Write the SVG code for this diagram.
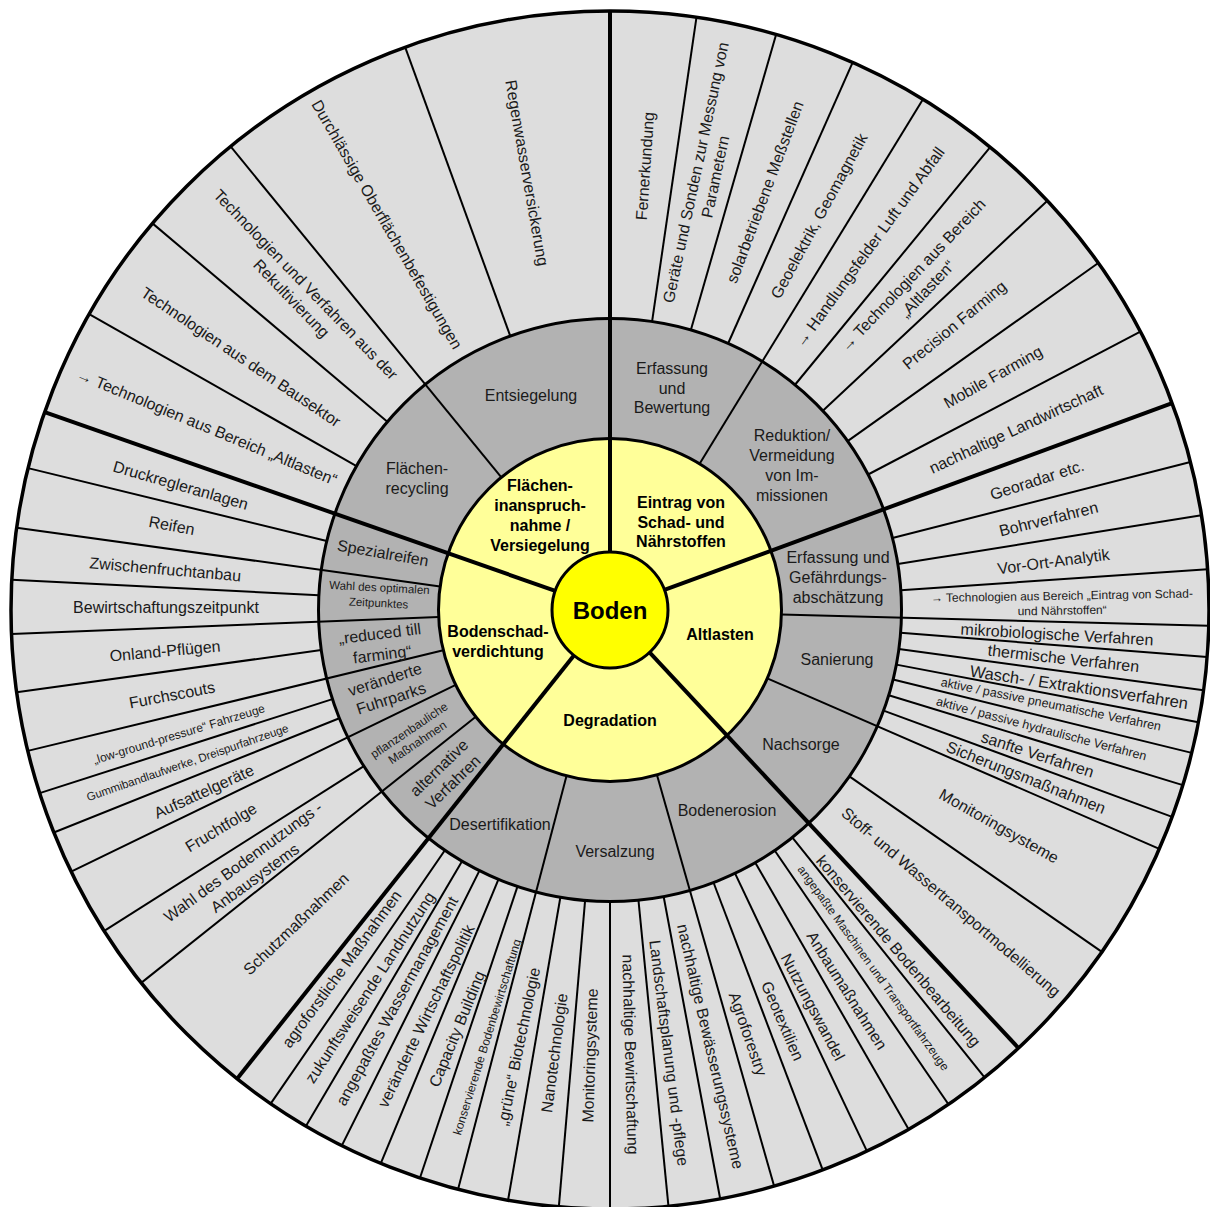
<svg xmlns="http://www.w3.org/2000/svg" width="1210" height="1207" viewBox="0 0 1210 1207">
<style>
.t{font-family:"Liberation Sans",Arial,Helvetica,sans-serif;font-size:16px;fill:#1a1a1a;text-anchor:middle}
.s{font-size:12px}
.xs{font-size:11.5px}
.m{font-size:12.5px}
.l{font-size:16.5px}
.y{font-weight:bold;fill:#000}
.bd{font-size:24px;font-weight:bold;fill:#000}
</style>
<defs>
<line id="li" x1="0" y1="-291.5" x2="0" y2="-599" stroke="#000" stroke-width="2"/>
<line id="lg" x1="0" y1="-171.5" x2="0" y2="-599" stroke="#000" stroke-width="2"/>
<line id="lm" x1="0" y1="-58" x2="0" y2="-599" stroke="#000" stroke-width="4"/>
</defs>
<rect width="1210" height="1207" fill="#fff"/>
<g id="rings">
<circle cx="610" cy="610" r="599" fill="#dddddd"/>
<circle cx="610" cy="610" r="291.5" fill="#b2b2b2"/>
<circle cx="610" cy="610" r="171.5" fill="#ffff99"/>
</g>
<g id="connectors" transform="translate(610,610)">
<use href="#li" transform="rotate(299.6)"/><use href="#li" transform="rotate(310.2)"/><use href="#li" transform="rotate(340)"/>
<use href="#li" transform="rotate(8.3)"/><use href="#li" transform="rotate(16.1)"/><use href="#li" transform="rotate(23.9)"/><use href="#li" transform="rotate(39.4)"/><use href="#li" transform="rotate(46.9)"/><use href="#li" transform="rotate(54.6)"/><use href="#li" transform="rotate(62.3)"/>
<use href="#li" transform="rotate(75.7)"/><use href="#li" transform="rotate(80.9)"/><use href="#li" transform="rotate(86.1)"/><use href="#li" transform="rotate(94.5)"/><use href="#li" transform="rotate(97.7)"/><use href="#li" transform="rotate(100.8)"/><use href="#li" transform="rotate(103.8)"/><use href="#li" transform="rotate(107)"/><use href="#li" transform="rotate(110.2)"/><use href="#li" transform="rotate(124.8)"/>
<use href="#li" transform="rotate(141.3)"/><use href="#li" transform="rotate(145.6)"/><use href="#li" transform="rotate(150.1)"/><use href="#li" transform="rotate(154.6)"/><use href="#li" transform="rotate(159.2)"/><use href="#li" transform="rotate(169.4)"/><use href="#li" transform="rotate(174.4)"/><use href="#li" transform="rotate(180)"/><use href="#li" transform="rotate(184.9)"/><use href="#li" transform="rotate(189.8)"/><use href="#li" transform="rotate(198.5)"/><use href="#li" transform="rotate(202.5)"/><use href="#li" transform="rotate(206.6)"/><use href="#li" transform="rotate(210.5)"/><use href="#li" transform="rotate(214.5)"/>
<use href="#li" transform="rotate(237.6)"/><use href="#li" transform="rotate(248.2)"/><use href="#li" transform="rotate(252.2)"/><use href="#li" transform="rotate(262.1)"/><use href="#li" transform="rotate(272.9)"/><use href="#li" transform="rotate(283.7)"/>
<use href="#lg" transform="rotate(31.5)"/><use href="#lg" transform="rotate(91.5)"/><use href="#lg" transform="rotate(113.5)"/><use href="#lg" transform="rotate(164.1)"/><use href="#lg" transform="rotate(194.7)"/><use href="#lg" transform="rotate(231.5)"/><use href="#lg" transform="rotate(244.1)"/><use href="#lg" transform="rotate(256.4)"/><use href="#lg" transform="rotate(267.7)"/><use href="#lg" transform="rotate(277.9)"/><use href="#lg" transform="rotate(320.7)"/>
<use href="#lm" transform="rotate(0)"/><use href="#lm" transform="rotate(69.8)"/><use href="#lm" transform="rotate(137)"/><use href="#lm" transform="rotate(218.5)"/><use href="#lm" transform="rotate(289.3)"/>
</g>
<g id="outlines" fill="none" stroke="#000">
<circle cx="610" cy="610" r="599" stroke-width="3.5"/>
<circle cx="610" cy="610" r="291.5" stroke-width="3"/>
<circle cx="610" cy="610" r="171.5" stroke-width="3"/>
</g>
<g id="boden"><circle cx="610" cy="610" r="58" fill="#ffff00" stroke="#000" stroke-width="3"/><text class="t bd" x="610" y="618.5">Boden</text></g>

<g id="y-flaechen"><text class="t y"><tspan x="540" y="490.5">Flächen-</tspan><tspan x="540" y="510.5">inanspruch-</tspan><tspan x="540" y="530.5">nahme /</tspan><tspan x="540" y="550.5">Versiegelung</tspan></text></g>
<g id="y-eintrag"><text class="t y"><tspan x="681" y="508">Eintrag von</tspan><tspan x="681" y="527.5">Schad- und</tspan><tspan x="681" y="547">Nährstoffen</tspan></text></g>
<g id="y-altlasten"><text class="t y" x="720" y="639.5">Altlasten</text></g>
<g id="y-degradation"><text class="t y" x="610" y="726">Degradation</text></g>
<g id="y-bodenschad"><text class="t y"><tspan x="498" y="637">Bodenschad-</tspan><tspan x="498" y="656.5">verdichtung</tspan></text></g>

<g id="g-entsiegelung"><text class="t" x="531" y="400.5">Entsiegelung</text></g>
<g id="g-flaechenrecycling"><text class="t"><tspan x="417" y="474">Flächen-</tspan><tspan x="417" y="494">recycling</tspan></text></g>
<g id="g-erfassung"><text class="t"><tspan x="672" y="374">Erfassung</tspan><tspan x="672" y="393.5">und</tspan><tspan x="672" y="413">Bewertung</tspan></text></g>
<g id="g-reduktion"><text class="t"><tspan x="792" y="441">Reduktion/</tspan><tspan x="792" y="460.5">Vermeidung</tspan><tspan x="792" y="480.5">von Im-</tspan><tspan x="792" y="500.5">missionen</tspan></text></g>
<g id="g-gefaehrdung"><text class="t"><tspan x="838" y="563">Erfassung und</tspan><tspan x="838" y="583">Gefährdungs-</tspan><tspan x="838" y="603">abschätzung</tspan></text></g>
<g id="g-sanierung"><text class="t" x="837" y="664.5">Sanierung</text></g>
<g id="g-nachsorge"><text class="t" x="801" y="750">Nachsorge</text></g>
<g id="g-bodenerosion"><text class="t" x="727" y="816">Bodenerosion</text></g>
<g id="g-versalzung"><text class="t" x="615" y="856.5">Versalzung</text></g>
<g id="g-desertifikation"><text class="t" x="500" y="829.5">Desertifikation</text></g>
<g id="g-spezialreifen"><text class="t" transform="translate(383,553) rotate(10)" y="5.5">Spezialreifen</text></g>
<g id="g-wahl"><text class="t xs" transform="translate(379,595) rotate(3)"><tspan x="0" y="-3.5">Wahl des optimalen</tspan><tspan x="0" y="12">Zeitpunktes</tspan></text></g>
<g id="g-reduced"><text class="t" transform="translate(381,644) rotate(-7)"><tspan x="0" y="-5">„reduced till</tspan><tspan x="0" y="16">farming“</tspan></text></g>
<g id="g-fuhrparks"><text class="t" transform="translate(388,689) rotate(-18)"><tspan x="0" y="-4.5">veränderte</tspan><tspan x="0" y="15.5">Fuhrparks</tspan></text></g>
<g id="g-pflanzenbau"><text class="t s" transform="translate(413,736) rotate(-34)"><tspan x="0" y="-2.8">pflanzenbauliche</tspan><tspan x="0" y="11.8">Maßnahmen</tspan></text></g>
<g id="g-alternative"><text class="t" transform="translate(446,775) rotate(-44)"><tspan x="0" y="-4.5">alternative</tspan><tspan x="0" y="15.5">Verfahren</tspan></text></g>

<g id="o-f1"><text class="t" transform="translate(207,427) rotate(22.5)" y="5.5">→ Technologien aus Bereich „Altlasten“</text></g>
<g id="o-f2"><text class="t" transform="translate(241,357) rotate(34)" y="5.5">Technologien aus dem Bausektor</text></g>
<g id="o-f3"><text class="t" transform="translate(298.5,291.5) rotate(46)"><tspan x="0" y="-4.5">Technologien und Verfahren aus der</tspan><tspan x="0" y="15.5">Rekultivierung</tspan></text></g>
<g id="o-f4"><text class="t" transform="translate(387,224.5) rotate(60)" y="5.5">Durchlässige Oberflächenbefestigungen</text></g>
<g id="o-f5"><text class="t" transform="translate(527,173) rotate(80)" y="5.5">Regenwasserversickerung</text></g>

<g id="o-e1"><text class="t" transform="translate(645,166) rotate(-86)" y="5.5">Fernerkundung</text></g>
<g id="o-e2"><text class="t" transform="translate(705.5,174.6) rotate(-78)"><tspan x="0" y="-4.5">Geräte und Sonden zur Messung von</tspan><tspan x="0" y="15.5">Parametern</tspan></text></g>
<g id="o-e3"><text class="t" transform="translate(765,192) rotate(-69.5)" y="5.5">solarbetriebene Meßstellen</text></g>
<g id="o-e4"><text class="t" transform="translate(819,216) rotate(-61.5)" y="5.5">Geoelektrik, Geomagnetik</text></g>
<g id="o-e5"><text class="t" transform="translate(869.5,247) rotate(-54)" y="5.5">→ Handlungsfelder Luft und Abfall</text></g>
<g id="o-e6"><text class="t" transform="translate(920,282) rotate(-46.5)"><tspan x="0" y="-4.5">→ Technologien aus Bereich</tspan><tspan x="0" y="15.5">„Altlasten“</tspan></text></g>
<g id="o-e7"><text class="t" transform="translate(954.5,325) rotate(-39.5)" y="5.5">Precision Farming</text></g>
<g id="o-e8"><text class="t" transform="translate(993,377) rotate(-29.5)" y="5.5">Mobile Farming</text></g>
<g id="o-e9"><text class="t" transform="translate(1016,429) rotate(-25)" y="5.5">nachhaltige Landwirtschaft</text></g>

<g id="o-a1"><text class="t" transform="translate(1037,480) rotate(-18)" y="5.5">Georadar etc.</text></g>
<g id="o-a2"><text class="t" transform="translate(1048.5,519) rotate(-14)" y="5.5">Bohrverfahren</text></g>
<g id="o-a3"><text class="t" transform="translate(1053.5,561.5) rotate(-7.5)" y="5.5">Vor-Ort-Analytik</text></g>
<g id="o-a4"><text class="t s" transform="translate(1062,603) rotate(-1)"><tspan x="0" y="-3.2">→ Technologien aus Bereich „Eintrag von Schad-</tspan><tspan x="0" y="11.6">und Nährstoffen“</tspan></text></g>
<g id="o-a5"><text class="t" transform="translate(1057,634.5) rotate(3.2)" y="5.5">mikrobiologische Verfahren</text></g>
<g id="o-a6"><text class="t" transform="translate(1063.5,658.5) rotate(6.3)" y="5.5">thermische Verfahren</text></g>
<g id="o-a7"><text class="t l" transform="translate(1079,687) rotate(8.5)" y="5.8">Wasch- / Extraktionsverfahren</text></g>
<g id="o-a8"><text class="t m" transform="translate(1051,704) rotate(11.5)" y="4.4">aktive / passive pneumatische Verfahren</text></g>
<g id="o-a9"><text class="t m" transform="translate(1041.5,728.5) rotate(14.8)" y="4.4">aktive / passive hydraulische Verfahren</text></g>
<g id="o-a10"><text class="t" transform="translate(1037.5,754.5) rotate(18)" y="5.5">sanfte Verfahren</text></g>
<g id="o-a11"><text class="t" transform="translate(1026,777.5) rotate(21.8)" y="5.5">Sicherungsmaßnahmen</text></g>
<g id="o-a12"><text class="t" transform="translate(999,826) rotate(29.5)" y="5.5">Monitoringsysteme</text></g>
<g id="o-a13"><text class="t" transform="translate(951,902) rotate(40.5)" y="5.5">Stoff- und Wassertransportmodellierung</text></g>

<g id="o-d1"><text class="t" transform="translate(898.5,951) rotate(49.8)" y="5.5">konservierende Bodenbearbeitung</text></g>
<g id="o-d2"><text class="t s" transform="translate(873.5,968) rotate(54.2)" y="4.2">angepaßte Maschinen und Transportfahrzeuge</text></g>
<g id="o-d3"><text class="t" transform="translate(846.8,990.5) rotate(57.8)" y="5.5">Anbaumaßnahmen</text></g>
<g id="o-d4"><text class="t" transform="translate(812.8,1007) rotate(62)" y="5.5">Nutzungswandel</text></g>
<g id="o-d5"><text class="t" transform="translate(782.5,1021) rotate(66.7)" y="5.5">Geotextilien</text></g>
<g id="o-d6"><text class="t" transform="translate(748,1034) rotate(71)" y="5.5">Agroforestry</text></g>
<g id="o-d7"><text class="t" transform="translate(710.5,1046.5) rotate(77)" y="5.5">nachhaltige Bewässerungssysteme</text></g>
<g id="o-d8"><text class="t" transform="translate(669,1053) rotate(82.8)" y="5.5">Landschaftsplanung und -pflege</text></g>
<g id="o-d9"><text class="t" transform="translate(630.5,1054.5) rotate(88.5)" y="5.5">nachhaltige Bewirtschaftung</text></g>
<g id="o-d10"><text class="t" transform="translate(590,1055.5) rotate(-88)" y="5.5">Monitoringsysteme</text></g>
<g id="o-d11"><text class="t" transform="translate(554.3,1053) rotate(-82.5)" y="5.5">Nanotechnologie</text></g>
<g id="o-d12"><text class="t" transform="translate(518.5,1046.5) rotate(-78.3)" y="5.5">„grüne“ Biotechnologie</text></g>
<g id="o-d13"><text class="t s" transform="translate(487,1037) rotate(-72.8)" y="4.2">konservierende Bodenbewirtschaftung</text></g>
<g id="o-d14"><text class="t" transform="translate(457,1029) rotate(-67.8)" y="5.5">Capacity Building</text></g>
<g id="o-d15"><text class="t" transform="translate(426,1016) rotate(-64)" y="5.5">veränderte Wirtschaftspolitik</text></g>
<g id="o-d16"><text class="t" transform="translate(397,1001) rotate(-61.2)" y="5.5">angepaßtes Wassermanagement</text></g>
<g id="o-d17"><text class="t" transform="translate(370,987.5) rotate(-57)" y="5.5">zukunftsweisende Landnutzung</text></g>
<g id="o-d18"><text class="t" transform="translate(341.7,969) rotate(-53.8)" y="5.5">agroforstliche Maßnahmen</text></g>

<g id="o-b1"><text class="t" transform="translate(296,924) rotate(-43.8)" y="5.5">Schutzmaßnahmen</text></g>
<g id="o-b2"><text class="t" transform="translate(249,870) rotate(-36.2)"><tspan x="0" y="-4.5">Wahl des Bodennutzungs -</tspan><tspan x="0" y="15.5">Anbausystems</tspan></text></g>
<g id="o-b3"><text class="t" transform="translate(221,827.5) rotate(-31)" y="5.5">Fruchtfolge</text></g>
<g id="o-b4"><text class="t" transform="translate(204,791.5) rotate(-24.6)" y="5.5">Aufsattelgeräte</text></g>
<g id="o-b5"><text class="t xs" transform="translate(187.5,762.5) rotate(-19.2)" y="4">Gummibandlaufwerke, Dreispurfahrzeuge</text></g>
<g id="o-b6"><text class="t s" transform="translate(179,734) rotate(-17)" y="4.2">„low-ground-pressure“ Fahrzeuge</text></g>
<g id="o-b7"><text class="t" transform="translate(172,695) rotate(-10.8)" y="5.5">Furchscouts</text></g>
<g id="o-b8"><text class="t" transform="translate(165,651) rotate(-5.3)" y="5.5">Onland-Pflügen</text></g>
<g id="o-b9"><text class="t" transform="translate(166,607) rotate(0)" y="5.5">Bewirtschaftungszeitpunkt</text></g>
<g id="o-b10"><text class="t" transform="translate(165.3,569.3) rotate(5)" y="5.5">Zwischenfruchtanbau</text></g>
<g id="o-b11"><text class="t" transform="translate(171.7,525.5) rotate(10.5)" y="5.5">Reifen</text></g>
<g id="o-b12"><text class="t" transform="translate(180.7,485.3) rotate(16)" y="5.5">Druckregleranlagen</text></g>
</svg>
